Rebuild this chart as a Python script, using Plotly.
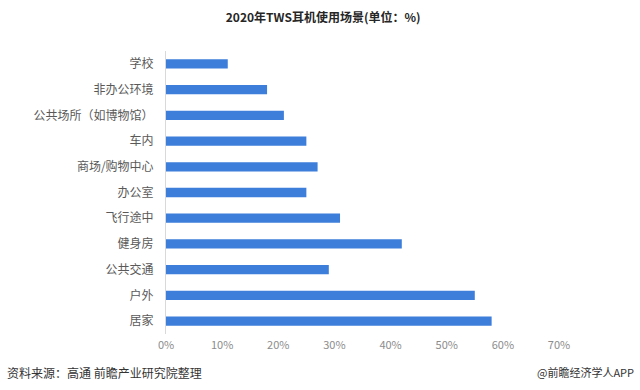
import plotly.graph_objects as go

categories = ["学校", "非办公环境", "公共场所（如博物馆）", "车内", "商场/购物中心", "办公室",
              "飞行途中", "健身房", "公共交通", "户外", "居家"]
values = [11, 18, 21, 25, 27, 25, 31, 42, 29, 55, 58]
x_ticks = [0, 10, 20, 30, 40, 50, 60, 70]
x_tick_labels = [f"{v}%" for v in x_ticks]

FONT = "Noto Sans CJK SC"

fig = go.Figure(go.Bar(
    x=values, y=categories, orientation="h",
    marker=dict(color="#3D7EDB", line=dict(width=0)),
    width=0.36,
))

fig.update_layout(
    width=640, height=390,
    margin=dict(l=166, r=81, t=51, b=56),
    paper_bgcolor="white", plot_bgcolor="white",
    font=dict(family=FONT, size=12, color="#595959"),
    showlegend=False,
    title=dict(text="<b>2020年TWS耳机使用场景(单位：%)</b>", x=0.505, xref="container",
               xanchor="center", y=1 - 18/390, yref="container", yanchor="middle",
               font=dict(family=FONT, size=12, color="#262626")),
    xaxis=dict(range=[0, 70], tickvals=x_ticks, ticktext=x_tick_labels,
               showgrid=False, zeroline=False, showline=False,
               tickfont=dict(size=11, color="#8c8c8c"), ticks="outside",
               ticklen=1, tickcolor="rgba(0,0,0,0)"),
    yaxis=dict(autorange="reversed", showgrid=False, zeroline=False,
               showline=True, linecolor="#d9d9d9", linewidth=1,
               ticks="outside", ticklen=9, tickcolor="rgba(0,0,0,0)",
               tickfont=dict(size=12, color="#595959")),
)

fig.add_annotation(text="资料来源：高通 前瞻产业研究院整理", xref="paper", yref="paper",
                   x=-161/393, y=-(372-334)/283, xanchor="left", yanchor="middle",
                   showarrow=False, font=dict(family=FONT, size=12, color="#333333"))
fig.add_annotation(text="@前瞻经济学人APP", xref="paper", yref="paper",
                   x=(636-166)/393, y=-(372-334)/283, xanchor="right", yanchor="middle",
                   showarrow=False, font=dict(family=FONT, size=11, color="#333333"))

fig.write_html("out.html", config={"displayModeBar": False},
               post_script="document.body.style.margin='0';")
